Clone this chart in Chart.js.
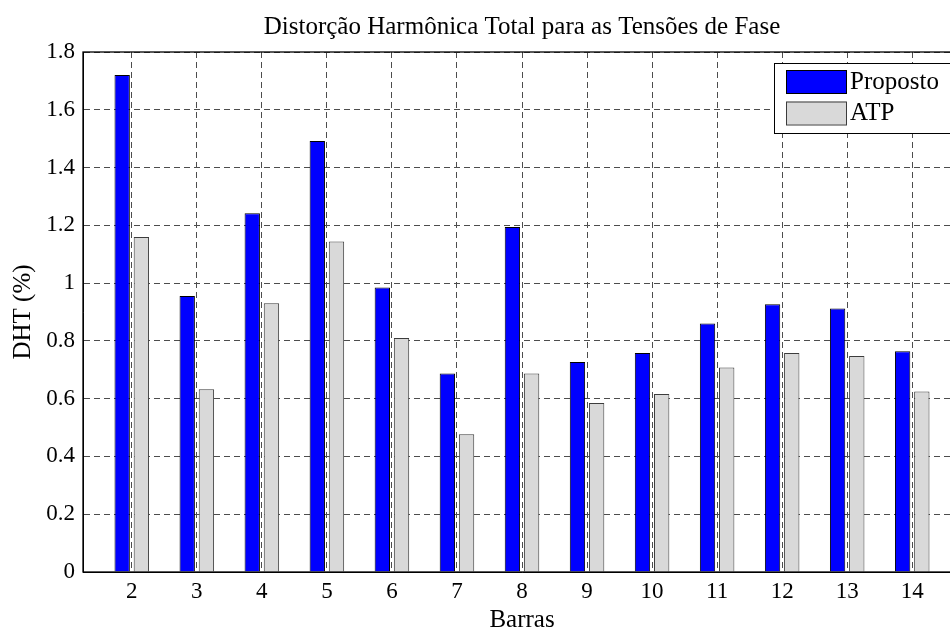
<!DOCTYPE html>
<html>
<head>
<meta charset="utf-8">
<script src="https://cdn.jsdelivr.net/npm/chart.js@4/dist/chart.umd.min.js"></script>
<style>
html,body{margin:0;padding:0;overflow:hidden;background:#fff;}
#wrap{width:980px;height:630px;}
</style>
</head>
<body>
<div id="wrap"><canvas id="c" width="980" height="630"></canvas></div>
<script>
// ---- data ----
const categories = [2, 3, 4, 5, 6, 7, 8, 9, 10, 11, 12, 13, 14];
const proposto = [1.72, 0.955, 1.242, 1.492, 0.985, 0.687, 1.194, 0.727, 0.758, 0.86, 0.927, 0.912, 0.764];
const atp = [1.16, 0.633, 0.93, 1.144, 0.81, 0.477, 0.687, 0.585, 0.616, 0.708, 0.758, 0.748, 0.625];
const yTicks = [0, 0.2, 0.4, 0.6, 0.8, 1.0, 1.2, 1.4, 1.6, 1.8];
const seriesNames = ['Proposto', 'ATP'];
const titleText = 'Distorção Harmônica Total para as Tensões de Fase';
const xTitle = 'Barras';
const yTitle = 'DHT (%)';

const FONT = '"Liberation Serif", "Times New Roman", serif';

const legendBox = {
  id: 'legendBox',
  afterDraw(chart) {
    const {ctx, chartArea} = chart;
    const left = chartArea.right - 187, top = chartArea.top + 11;
    ctx.save();
    ctx.fillStyle = '#fff';
    ctx.fillRect(left, top, 400, 70);
    ctx.strokeStyle = '#000';
    ctx.lineWidth = 1;
    ctx.strokeRect(left + 0.5, top + 0.5, 400, 70);
    ctx.font = '25px ' + FONT;
    ctx.textBaseline = 'middle';
    ctx.textAlign = 'left';
    chart.data.datasets.forEach((ds, i) => {
      const sy = top + 7 + i * 31.5;
      ctx.fillStyle = ds.backgroundColor;
      ctx.fillRect(left + 12, sy, 60, 23);
      ctx.strokeStyle = ds.borderColor;
      ctx.strokeRect(left + 12.5, sy + 0.5, 60, 23);
      ctx.fillStyle = '#000';
      ctx.fillText(ds.label, left + 76, sy + 12);
    });
    ctx.restore();
  }
};

const frame = {
  id: 'frame',
  afterDatasetsDraw(chart) {
    const {ctx, chartArea} = chart;
    ctx.save();
    ctx.strokeStyle = '#000';
    ctx.lineWidth = 1.3;
    ctx.strokeRect(chartArea.left, chartArea.top, chartArea.right - chartArea.left, chartArea.bottom - chartArea.top);
    ctx.restore();
  }
};

new Chart(document.getElementById('c'), {
  type: 'bar',
  data: {
    datasets: [
      {
        label: seriesNames[0],
        data: categories.map((c, i) => ({x: c, y: proposto[i]})),
        backgroundColor: '#0000ff',
        borderColor: '#000000',
        borderWidth: 1,
        categoryPercentage: 0.59,
        barPercentage: 0.8
      },
      {
        label: seriesNames[1],
        data: categories.map((c, i) => ({x: c, y: atp[i]})),
        backgroundColor: '#d9d9d9',
        borderColor: '#3c3c3c',
        borderWidth: 1,
        categoryPercentage: 0.59,
        barPercentage: 0.8
      }
    ]
  },
  options: {
    responsive: false,
    animation: false,
    layout: {padding: {left: 0, right: 19, top: 0, bottom: 0}},
    plugins: {
      legend: {display: false},
      tooltip: {enabled: false},
      title: {
        display: true,
        text: titleText,
        fullSize: false,
        color: '#000',
        font: {family: FONT, size: 25, weight: 'normal', lineHeight: 1.2},
        padding: {top: 12, bottom: 10}
      }
    },
    scales: {
      x: {
        type: 'linear',
        min: 1.25,
        max: 14.75,
        offset: false,
        afterBuildTicks(scale) { scale.ticks = categories.map(v => ({value: v})); },
        ticks: {
          color: '#000',
          font: {family: FONT, size: 23},
          padding: 6,
          maxRotation: 0,
          autoSkip: false,
          callback: v => String(v)
        },
        grid: {color: '#4d4d4d', lineWidth: 1, drawTicks: false, offset: false},
        border: {display: true, color: '#000', dash: [6, 4]},
        title: {
          display: true,
          text: xTitle,
          color: '#000',
          font: {family: FONT, size: 25, lineHeight: 1},
          padding: {top: 0, bottom: -2.5}
        },
        afterFit(scale) { scale.height = 58; }
      },
      y: {
        min: 0,
        max: 1.8,
        afterBuildTicks(scale) { scale.ticks = yTicks.map(v => ({value: v})); },
        ticks: {
          color: '#000',
          font: {family: FONT, size: 23},
          padding: 8,
          callback: v => String(+v.toFixed(1))
        },
        grid: {color: '#4d4d4d', lineWidth: 1, drawTicks: false},
        border: {display: true, color: '#000', dash: [6, 4]},
        title: {
          display: true,
          text: yTitle,
          color: '#000',
          font: {family: FONT, size: 25, lineHeight: 1.2},
          padding: {top: 8, bottom: 0}
        },
        afterFit(scale) { scale.width = 83; }
      }
    }
  },
  plugins: [frame, legendBox]
});
</script>
</body>
</html>
